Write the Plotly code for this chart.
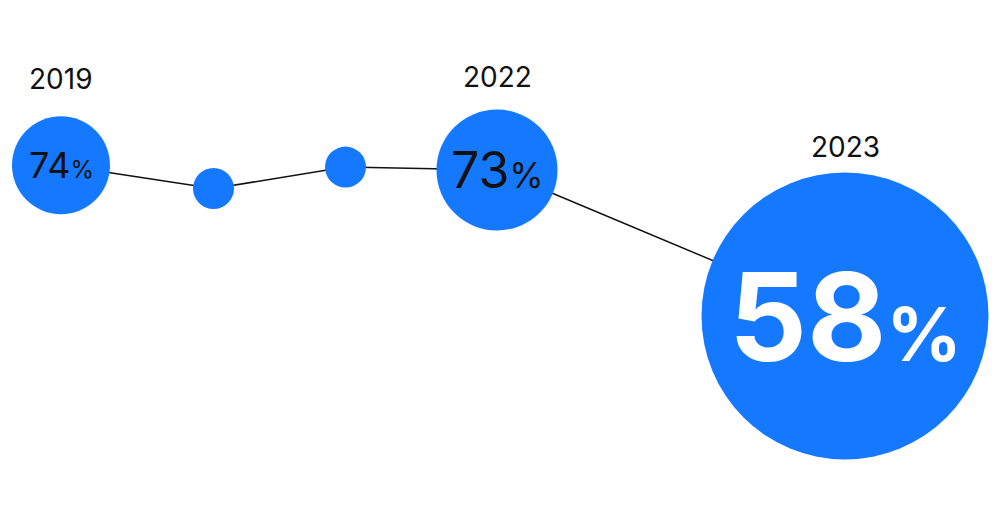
import plotly.graph_objects as go

years = ['2019', '2020', '2021', '2022', '2023']
share = [73.5, 71.1, 73.3, 73.0, 58.0]
show_label = [True, False, False, True, True]

# layout of the bubbles
x_pos = [0.61, 2.135, 3.455, 4.97, 8.45]
bubble_size = [98, 41, 41, 121, 287]
num_size = [36, 10, 10, 50, 122]
pct_size = [24, 10, 10, 35, 74]
text_color = ['#111111', '#111111', '#111111', '#111111', '#ffffff']
label_gap = [18, 0, 0, 14, 7]

blue = '#1479ff'

fig = go.Figure()

fig.add_trace(go.Scatter(
    x=x_pos, y=share, mode='lines',
    line=dict(color='#111111', width=1.5),
    hoverinfo='skip'))

fig.add_trace(go.Scatter(
    x=x_pos, y=share, mode='markers',
    marker=dict(size=bubble_size, color=blue, line=dict(width=0), opacity=1),
    hoverinfo='skip'))

for x, y, v, yr, show, s, g, ns, ps, c in zip(x_pos, share, share, years, show_label,
                                              bubble_size, label_gap, num_size,
                                              pct_size, text_color):
    if not show:
        continue
    t = f"{round(v)}<span style='font-size:{ps}px'>%</span>"
    if ns > 100:
        t = f"<b>{t}</b>"
    # value inside the bubble
    fig.add_annotation(
        x=x, y=y, text=t, showarrow=False,
        font=dict(family='Inter', size=ns, color=c))
    # year above the bubble
    fig.add_annotation(
        x=x, y=y, text=yr, showarrow=False,
        yanchor='bottom', yshift=s / 2 + g,
        font=dict(family='Inter', size=28, color='#111111'))

fig.update_layout(
    width=1000, height=523,
    margin=dict(l=0, r=0, t=0, b=0),
    paper_bgcolor='white', plot_bgcolor='white',
    showlegend=False,
    xaxis=dict(visible=False, range=[0, 10], fixedrange=True),
    yaxis=dict(visible=False, range=[36.73, 90.47], fixedrange=True),
)

fig.write_html("out.html", config={'displayModeBar': False},
               post_script="document.body.style.margin='0';")
